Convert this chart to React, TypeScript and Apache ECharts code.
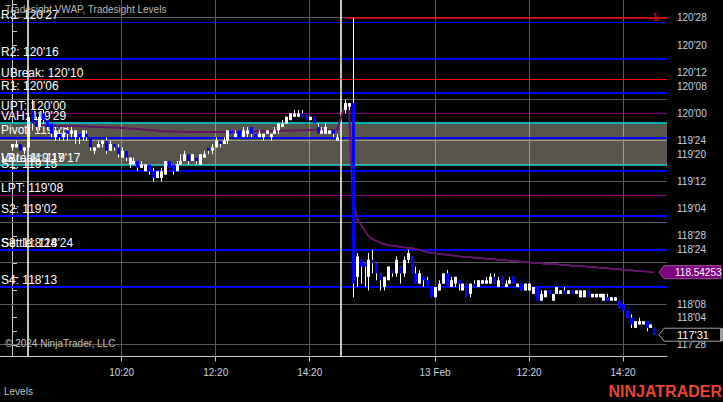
import React, { useEffect, useRef } from 'react';
import * as echarts from 'echarts';

const FONT = '"Liberation Sans", Arial, sans-serif';

// Prices are stored as 32nds above 117'00 (ZB futures tick = 1/32)
const BASE = 117;
const tk = (t: number) => BASE + t / 32;

// Day 1 (12 Feb) 5-min bars 8:00..14:55 -> [open, close, low, high] in 32nds above 117'00
const day1Start = 0;
const day1Candles = [
  [86, 87, 85, 87], [86, 87, 86, 88], [87, 85, 85, 87], [85, 86, 84, 86], [86, 95, 85, 96],
  [97, 93, 91, 100], [94, 92, 91, 95], [92, 95, 91, 96], [96, 94, 93, 97], [94, 92, 91, 94],
  [93, 90, 89, 93], [89, 91, 88, 92], [90, 89, 88, 91], [89, 90, 88, 91], [91, 90, 88, 92],
  [90, 91, 89, 92], [89, 91, 87, 91], [90, 89, 87, 90], [89, 91, 88, 91], [90, 89, 88, 91],
  [89, 86, 85, 89], [85, 86, 84, 86], [86, 87, 86, 88], [87, 88, 86, 88], [88, 85, 84, 89],
  [85, 87, 85, 88], [87, 86, 85, 87], [86, 84, 83, 87], [83, 85, 83, 86], [85, 83, 82, 85],
  [81, 83, 80, 83], [81, 82, 81, 83], [82, 80, 79, 82], [80, 81, 80, 82], [79, 81, 79, 81],
  [81, 79, 78, 81], [79, 77, 76, 80], [77, 79, 77, 79], [77, 79, 76, 80], [78, 82, 78, 82],
  [82, 80, 80, 82], [81, 79, 78, 81], [79, 81, 79, 82], [81, 82, 81, 84], [82, 84, 82, 85],
  [84, 82, 81, 84], [82, 84, 82, 84], [83, 82, 81, 83], [81, 84, 81, 84], [83, 84, 83, 85],
  [86, 85, 84, 86], [85, 86, 84, 87], [86, 88, 86, 89], [88, 87, 86, 88], [87, 88, 87, 89],
  [88, 91, 87, 91], [91, 90, 90, 91], [89, 90, 89, 91], [91, 89, 89, 91], [89, 91, 89, 92],
  [90, 91, 89, 92], [92, 90, 89, 92], [90, 89, 89, 90], [89, 90, 89, 91], [89, 90, 88, 90],
  [90, 91, 90, 91], [89, 90, 88, 90], [90, 91, 90, 92], [91, 93, 90, 93], [92, 93, 92, 94],
  [93, 95, 93, 95], [94, 96, 94, 96], [95, 96, 95, 97], [95, 96, 95, 97], [96, 95, 95, 97],
  [96, 94, 94, 96], [94, 95, 94, 95], [95, 93, 93, 95], [92, 90, 90, 93], [90, 91, 90, 92],
  [90, 92, 90, 93], [90, 91, 90, 91], [91, 90, 89, 91], [88, 89, 88, 90],
];

// Day 2 (13 Feb) 5-min bars 8:25..15:00
const day2Start = 85;
const day2Candles = [
  [97, 99, 96, 100], [98, 99, 97, 99], [99, 46, 42, 124], [48, 54, 45, 55], [53, 51, 46, 53],
  [52, 51, 45, 52], [48, 53, 44, 55], [53, 52, 49, 56], [52, 49, 47, 52], [49, 47, 44, 49],
  [45, 48, 44, 48], [47, 51, 47, 51], [50, 49, 48, 50], [49, 53, 48, 54], [51, 49, 46, 51],
  [49, 53, 48, 54], [53, 55, 52, 56], [54, 49, 49, 54], [49, 46, 46, 51], [46, 49, 46, 50],
  [48, 47, 45, 48], [47, 45, 45, 48], [45, 42, 42, 45], [42, 45, 42, 45], [44, 46, 44, 47],
  [46, 49, 46, 49], [49, 45, 45, 50], [45, 47, 45, 48], [46, 48, 45, 48], [47, 46, 44, 47],
  [44, 46, 44, 46], [46, 42, 42, 46], [43, 46, 42, 46], [46, 45, 45, 47], [45, 47, 45, 47],
  [46, 47, 46, 47], [46, 47, 46, 48], [46, 48, 46, 49], [48, 46, 46, 49], [45, 47, 45, 48],
  [48, 46, 46, 48], [45, 46, 45, 47], [46, 47, 46, 48], [48, 46, 46, 48], [45, 46, 45, 46],
  [46, 44, 44, 46], [44, 46, 44, 46], [44, 46, 44, 46], [43, 45, 43, 45], [45, 41, 41, 45],
  [41, 43, 41, 44], [42, 44, 42, 44], [44, 43, 43, 44], [41, 43, 41, 43], [43, 45, 43, 45],
  [43, 44, 43, 44], [44, 43, 43, 45], [43, 44, 43, 44], [44, 43, 43, 44], [43, 44, 43, 44],
  [42, 44, 42, 44], [42, 44, 42, 44], [44, 42, 42, 44], [42, 43, 42, 43], [42, 43, 42, 43],
  [42, 43, 42, 43], [41, 43, 41, 43], [42, 41, 41, 43], [41, 42, 41, 42], [41, 42, 41, 42],
  [41, 39, 39, 41], [40, 38, 38, 40], [38, 36, 36, 38], [36, 34, 33, 37], [33, 35, 33, 35],
  [34, 35, 34, 36], [34, 35, 34, 35], [35, 33, 32, 35], [33, 34, 33, 34], [33, 31, 31, 33],
];

// Tradesight VWAP (session anchored), day 1 from slot 5, day 2 from slot 85
const vwapDay1Start = 5;
const vwapDay1 = [
  119.921, 119.902, 119.893, 119.888, 119.886, 119.884, 119.884, 119.884, 119.884, 119.884,
  119.884, 119.884, 119.882, 119.882, 119.880, 119.878, 119.876, 119.875, 119.875, 119.873,
  119.871, 119.870, 119.868, 119.866, 119.864, 119.862, 119.859, 119.856, 119.853, 119.850,
  119.847, 119.844, 119.841, 119.838, 119.836, 119.835, 119.834, 119.833, 119.832, 119.831,
  119.830, 119.830, 119.829, 119.829, 119.829, 119.829, 119.829, 119.830, 119.830, 119.830,
  119.831, 119.831, 119.832, 119.832, 119.833, 119.834, 119.834, 119.835, 119.835, 119.836,
  119.836, 119.837, 119.838, 119.839, 119.840, 119.841, 119.842, 119.843, 119.844, 119.845,
  119.846, 119.847, 119.847, 119.847, 119.847, 119.847, 119.847, 119.847, 119.847,
];
const vwapDay2Start = 85;
const vwapDay2 = [
  120.077, 120.086, 119.25, 119.04, 118.985, 118.93, 118.875, 118.847, 118.829, 118.811,
  118.802, 118.792, 118.783, 118.783, 118.774, 118.774, 118.765, 118.765, 118.756, 118.747,
  118.737, 118.728, 118.719, 118.719, 118.710, 118.710, 118.701, 118.701, 118.692, 118.692,
  118.682, 118.682, 118.682, 118.673, 118.673, 118.673, 118.664, 118.664, 118.664, 118.655,
  118.655, 118.655, 118.646, 118.646, 118.646, 118.636, 118.636, 118.636, 118.627, 118.627,
  118.627, 118.618, 118.618, 118.618, 118.618, 118.609, 118.609, 118.609, 118.600, 118.600,
  118.600, 118.600, 118.591, 118.591, 118.591, 118.581, 118.581, 118.581, 118.572, 118.572,
  118.572, 118.563, 118.563, 118.563, 118.554, 118.554, 118.554, 118.548, 118.545, 118.54253,
];

// Tradesight levels (32nds above 117'00)
const levelNames = ['R3', 'R2', 'UBreak', 'R1', 'UPT', 'VAH', 'Pivot', 'LBreak', 'VAL', 'S1', 'LPT', 'S2', 'Settle', 'S3', 'S4'];
const levelTicks = [123, 112, 106, 102, 96, 93, 89, 81, 81, 79, 72, 66, 56, 56, 45];

// session open markers (slots) and time axis labels
const sessionOpenSlots = [4, 84];
const timeSlots = [28, 52, 76, 108, 132, 156];
const timeLabels = ['10:20', '12:20', '14:20', '13 Feb', '12:20', '14:20'];

// price axis labels shown
const priceLabels = [117.875, 118.125, 118.25, 118.75, 118.875, 119.125, 119.375, 119.625, 119.75, 120, 120.25, 120.375, 120.625, 120.875];
const gridPrices = [117.875, 118.25, 118.625, 119, 119.375, 119.75, 120.125, 120.5, 120.875];

const X_MIN = -3.064;
const X_MAX = 167.22;
const Y_MIN = 117.769;
const Y_MAX = 121.04;

const levelStyle: Record<string, { color: string; width: number }> = {
  R3: { color: '#0000ff', width: 1 },
  R2: { color: '#0000ff', width: 2 },
  UBreak: { color: '#ff0000', width: 1 },
  R1: { color: '#0000ff', width: 2 },
  UPT: { color: '#800080', width: 1 },
  VAH: { color: '#00e5e5', width: 1.5 },
  Pivot: { color: '#0000ff', width: 2 },
  LBreak: { color: '#ff0000', width: 1 },
  VAL: { color: '#00e5e5', width: 1.5 },
  S1: { color: '#0000ff', width: 2 },
  LPT: { color: '#800080', width: 1 },
  S2: { color: '#0000ff', width: 2 },
  Settle: { color: '#00a000', width: 1 },
  S3: { color: '#0000ff', width: 2 },
  S4: { color: '#0000ff', width: 2 },
};

const fmt32 = (p: number) => {
  const whole = Math.floor(p + 1e-9);
  const n = Math.round((p - whole) * 32);
  return `${whole}'${String(n).padStart(2, '0')}`;
};

export default function App() {
  const ref = useRef<HTMLDivElement>(null);

  useEffect(() => {
    document.body.style.margin = '0';
    document.body.style.background = '#000';
    const el = ref.current!;
    const chart = echarts.init(el, null, { renderer: 'svg' });

    const candles: number[][] = [];
    day1Candles.forEach((c, i) => candles.push([day1Start + i, tk(c[0]), tk(c[1]), tk(c[2]), tk(c[3])]));
    day2Candles.forEach((c, i) => candles.push([day2Start + i, tk(c[0]), tk(c[1]), tk(c[2]), tk(c[3])]));

    const vwap: number[][] = [];
    vwapDay1.forEach((v, i) => vwap.push([vwapDay1Start + i, v]));
    vwapDay2.forEach((v, i) => vwap.push([vwapDay2Start + i, v]));

    const yTicks: number[] = [];
    for (let v = 117.875; v <= 121.0001; v += 0.125) yTicks.push(+v.toFixed(3));

    const vah = tk(levelTicks[levelNames.indexOf('VAH')]);
    const val = tk(levelTicks[levelNames.indexOf('VAL')]);
    const day2High = Math.max(...day2Candles.map((c) => c[3]));

    const GRID_DARK = '#5a5a5a';
    const GRID_LIGHT = '#9a9890';

    const option: any = {
      animation: false,
      backgroundColor: '#000',
      grid: { left: 0, right: 56, top: 0, bottom: 45.5 },
      xAxis: {
        type: 'value',
        min: X_MIN,
        max: X_MAX,
        axisLine: { show: true, lineStyle: { color: '#c8c8c8', width: 1 } },
        axisTick: { show: true, customValues: timeSlots, length: 5, lineStyle: { color: '#c8c8c8' } },
        axisLabel: {
          customValues: timeSlots,
          formatter: (v: number) => {
            const i = timeSlots.indexOf(Math.round(v));
            return i >= 0 ? timeLabels[i] : '';
          },
          color: '#c8d2e0',
          fontFamily: FONT,
          fontSize: 10,
          margin: 11,
        },
        splitLine: { show: false },
      },
      yAxis: {
        type: 'value',
        position: 'right',
        min: Y_MIN,
        max: Y_MAX,
        axisLine: { show: true, lineStyle: { color: '#c8c8c8', width: 1 } },
        axisTick: { show: true, customValues: yTicks, length: 5, lineStyle: { color: '#c8c8c8' } },
        axisLabel: {
          customValues: priceLabels,
          formatter: (v: number) => fmt32(v),
          color: '#c8d2e0',
          fontFamily: FONT,
          fontSize: 10,
          margin: 10,
        },
        splitLine: { show: false },
      },
      series: [
        {
          name: 'valueArea',
          type: 'line',
          data: [],
          z: 1,
          silent: true,
          markArea: {
            silent: true,
            itemStyle: { color: '#57554c' },
            data: [[{ yAxis: vah }, { yAxis: val }]],
          },
        },
        {
          name: 'levels',
          type: 'line',
          data: [],
          z: 3,
          silent: true,
          markLine: {
            silent: true,
            symbol: ['none', 'none'],
            data: [
              ...gridPrices.map((p) => ({
                yAxis: p,
                lineStyle: { color: p < vah && p > val ? GRID_LIGHT : GRID_DARK, width: 1, type: 'solid' },
                label: { show: false },
              })),
              ...timeSlots.map((s) => ({
                xAxis: s,
                lineStyle: { color: GRID_DARK, width: 1, type: 'solid' },
                label: { show: false },
              })),
              ...timeSlots.map((s) => [
                { coord: [s, vah], lineStyle: { color: GRID_LIGHT, width: 1, type: 'solid' }, label: { show: false } },
                { coord: [s, val] },
              ]),
              ...levelNames.map((n, i) => ({
                yAxis: tk(levelTicks[i]),
                name: n,
                lineStyle: { color: levelStyle[n].color, width: levelStyle[n].width, type: 'solid' },
                label: {
                  show: true,
                  position: 'insideStartTop',
                  formatter: `${n}: ${fmt32(tk(levelTicks[i]))}`,
                  color: '#ffffff',
                  fontFamily: FONT,
                  fontSize: 12,
                  distance: [1, 1],
                },
              })),
            ],
          },
        },
        {
          name: 'sessions',
          type: 'line',
          data: [],
          z: 4,
          silent: true,
          markLine: {
            silent: true,
            symbol: ['none', 'none'],
            label: { show: false },
            lineStyle: { color: '#ffffff', width: 1.5, type: 'solid' },
            data: [
              ...sessionOpenSlots.map((s) => ({ xAxis: s })),
              [
                { coord: [day2Start, tk(day2High)], lineStyle: { color: '#ff0000', width: 1.5 } },
                { coord: [X_MAX, tk(day2High)] },
              ],
            ],
          },
        },
        {
          name: 'VWAP',
          type: 'line',
          data: vwap,
          z: 5,
          showSymbol: false,
          symbol: 'none',
          lineStyle: { color: '#641464', width: 2 },
        },
        {
          name: 'Price',
          type: 'custom',
          z: 6,
          data: candles,
          encode: { x: 0, y: [1, 2, 3, 4] },
          renderItem: (params: any, api: any) => {
            const x = api.value(0);
            const o = api.value(1);
            const c = api.value(2);
            const l = api.value(3);
            const h = api.value(4);
            const pO = api.coord([x, o]);
            const pC = api.coord([x, c]);
            const pL = api.coord([x, l]);
            const pH = api.coord([x, h]);
            const up = c >= o;
            const cx = Math.round(pO[0]);
            const top = Math.min(pO[1], pC[1]);
            const bh = Math.max(1.5, Math.abs(pO[1] - pC[1]));
            return {
              type: 'group',
              children: [
                {
                  type: 'line',
                  shape: { x1: cx + 0.5, y1: pH[1], x2: cx + 0.5, y2: pL[1] },
                  style: { stroke: '#ffffff', lineWidth: 1 },
                },
                {
                  type: 'rect',
                  shape: { x: cx - 1, y: top, width: 3, height: bh },
                  style: { fill: up ? '#ffffff' : '#0000ff' },
                },
              ],
            };
          },
        },
      ],
    };

    chart.setOption(option);

    const lastVwap = vwapDay2[vwapDay2.length - 1];
    const lastClose = tk(day2Candles[day2Candles.length - 1][1]);
    const pV = chart.convertToPixel({ gridIndex: 0 }, [X_MAX, lastVwap]) as number[];
    const pC = chart.convertToPixel({ gridIndex: 0 }, [X_MAX, lastClose]) as number[];
    const pHi = chart.convertToPixel({ gridIndex: 0 }, [X_MAX, tk(day2High)]) as number[];
    const xr = pV[0];
    const hh = 6.5;
    const box = (y: number) => [
      [xr - 8, y],
      [xr - 3, y - hh],
      [721, y - hh],
      [721, y + hh],
      [xr - 3, y + hh],
    ];

    chart.setOption({
      graphic: [
        {
          type: 'text',
          left: 5,
          top: 4,
          style: { text: 'Tradesight VWAP, Tradesight Levels', fill: '#b8b8b8', font: `10px ${FONT}` },
          z: 100,
        },
        {
          type: 'text',
          left: 5,
          top: 338,
          style: { text: '© 2024 NinjaTrader, LLC', fill: '#c0c0c0', font: `10px ${FONT}` },
          z: 100,
        },
        {
          type: 'text',
          left: 4,
          top: 386,
          style: { text: 'Levels', fill: '#c0c0c0', font: `10px ${FONT}` },
          z: 100,
        },
        {
          type: 'text',
          right: 1,
          top: 383,
          style: { text: 'NINJATRADER', fill: '#e8452c', font: `bold 16px ${FONT}` },
          z: 100,
        },
        {
          type: 'text',
          x: xr - 9,
          y: pHi[1],
          style: { text: '1', fill: '#ff0000', font: `10px ${FONT}`, align: 'right', verticalAlign: 'middle' },
          z: 100,
        },
        {
          type: 'polygon',
          shape: { points: box(pV[1]) },
          style: { fill: '#800080', stroke: '#a050a0', lineWidth: 1 },
          z: 100,
        },
        {
          type: 'text',
          x: xr + 8,
          y: pV[1],
          style: { text: lastVwap.toFixed(5), fill: '#ffffff', font: `10px ${FONT}`, verticalAlign: 'middle' },
          z: 101,
        },
        {
          type: 'polygon',
          shape: { points: box(pC[1]) },
          style: { fill: '#000000', stroke: '#a0a0a0', lineWidth: 1 },
          z: 100,
        },
        {
          type: 'rect',
          shape: { x: 720, y: pC[1] - hh, width: 3, height: hh * 2 },
          style: { fill: '#a0a0a0' },
          z: 101,
        },
        {
          type: 'text',
          x: xr + 10,
          y: pC[1],
          style: { text: fmt32(lastClose), fill: '#ffffff', font: `11px ${FONT}`, verticalAlign: 'middle' },
          z: 101,
        },
      ],
    });

    return () => chart.dispose();
  }, []);

  return <div ref={ref} style={{ width: 723, height: 402, background: '#000' }} />;
}
